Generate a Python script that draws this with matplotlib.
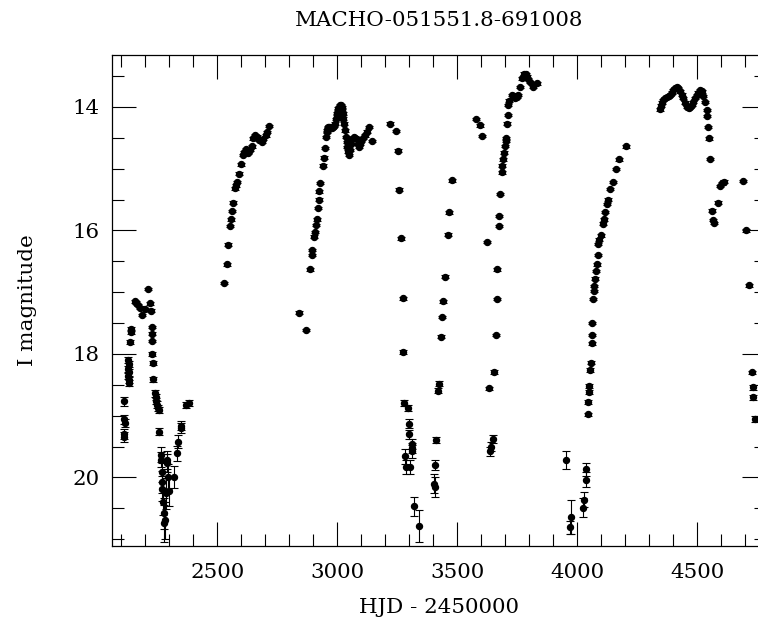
import matplotlib
matplotlib.use("Agg")
import matplotlib.pyplot as plt
from matplotlib.ticker import MultipleLocator
import numpy as np

title = "MACHO-051551.8-691008"
xlabel = "HJD - 2450000"
ylabel = "I magnitude"

# Season 1 (HJD-2450000 ~2100-2390)
hjd_s1 = [2111, 2113, 2114, 2111, 2112, 2129, 2130, 2129, 2130, 2129, 2130, 2131,
          2139, 2140, 2138, 2157, 2163, 2171, 2178, 2186, 2199, 2212, 2220, 2224,
          2227, 2228, 2228, 2229, 2230, 2232, 2240, 2243, 2246, 2250, 2254, 2258,
          2258, 2264, 2266, 2268, 2270, 2271, 2275, 2276, 2278, 2282, 2288, 2290,
          2292, 2296, 2297, 2320, 2331, 2338, 2347, 2350, 2370, 2384]
mag_s1 = [18.77, 19.06, 19.12, 19.30, 19.35, 18.10, 18.17, 18.24, 18.30, 18.36, 18.42, 18.47,
          17.60, 17.65, 17.81, 17.15, 17.17, 17.21, 17.25, 17.37, 17.27, 16.95, 17.18, 17.30,
          17.56, 17.67, 17.79, 18.00, 18.15, 18.41, 18.64, 18.70, 18.76, 18.82, 18.87, 18.91,
          19.26, 19.63, 19.71, 19.92, 20.07, 20.18, 20.39, 20.58, 20.74, 20.69, 20.26, 19.77,
          19.72, 19.99, 20.22, 19.99, 19.61, 19.42, 19.20, 19.16, 18.83, 18.80]
err_s1 = [0.07, 0.07, 0.07, 0.08, 0.08, 0.05, 0.05, 0.05, 0.05, 0.05, 0.05, 0.05,
          0.03, 0.03, 0.03, 0.02, 0.02, 0.02, 0.02, 0.02, 0.02, 0.02, 0.02, 0.02,
          0.02, 0.02, 0.02, 0.03, 0.03, 0.04, 0.05, 0.05, 0.05, 0.05, 0.05, 0.05,
          0.06, 0.12, 0.12, 0.15, 0.18, 0.20, 0.22, 0.25, 0.30, 0.30, 0.25, 0.15,
          0.15, 0.20, 0.25, 0.18, 0.12, 0.10, 0.08, 0.08, 0.05, 0.05]

# Season 2 (~2520-2720)
hjd_s2 = [2529, 2539, 2546, 2553, 2557, 2560, 2564, 2574, 2577, 2580, 2592, 2597, 2606,
          2611, 2620, 2626, 2629, 2636, 2643, 2650, 2657, 2665, 2675, 2685, 2692, 2703,
          2708, 2717]
mag_s2 = [16.85, 16.55, 16.23, 15.93, 15.82, 15.69, 15.55, 15.32, 15.27, 15.22, 15.08, 14.93, 14.78,
          14.73, 14.69, 14.72, 14.75, 14.70, 14.64, 14.51, 14.46, 14.48, 14.54, 14.57, 14.52, 14.46,
          14.41, 14.31]
err_s2 = [0.02] * len(hjd_s2)

# Season 3 (~2840-3145)
hjd_s3 = [2840, 2870, 2886, 2893, 2896, 2904, 2907, 2911, 2914, 2921, 2923, 2925, 2928,
          2942, 2944, 2949, 2953, 2955, 2957, 2960, 2963, 2967, 2972, 2978, 2983, 2987,
          2990, 2994, 2997, 3000, 3002, 3004, 3007, 3011, 3014, 3018, 3020, 3022, 3025,
          3027, 3031, 3036, 3039, 3041, 3045, 3050, 3054, 3058, 3063, 3070, 3075, 3080,
          3086, 3092, 3096, 3100, 3107, 3115, 3122, 3130, 3143]
mag_s3 = [17.33, 17.61, 16.63, 16.40, 16.32, 16.10, 16.03, 15.91, 15.82, 15.64, 15.50, 15.37, 15.23,
          14.95, 14.82, 14.67, 14.49, 14.41, 14.38, 14.34, 14.33, 14.32, 14.33, 14.34, 14.33, 14.31,
          14.27, 14.20, 14.15, 14.10, 14.06, 14.03, 14.00, 13.97, 13.97, 14.00, 14.05, 14.11, 14.19,
          14.27, 14.38, 14.49, 14.57, 14.65, 14.72, 14.78, 14.70, 14.60, 14.52, 14.49, 14.50, 14.52,
          14.60, 14.65, 14.60, 14.55, 14.50, 14.46, 14.40, 14.33, 14.55]
err_s3 = [0.02] * len(hjd_s3)

# Season 4 (~3220-3480)
hjd_s4 = [3220, 3243, 3252, 3258, 3265, 3272, 3275, 3278, 3293, 3299, 3300, 3310, 3312,
          3313, 3282, 3284, 3303, 3321, 3342, 3403, 3405, 3407, 3411, 3418, 3424, 3431,
          3435, 3439, 3449, 3459, 3465, 3477]
mag_s4 = [14.27, 14.39, 14.71, 15.34, 16.13, 17.10, 17.97, 18.79, 18.88, 19.13, 19.30, 19.46, 19.52,
          19.58, 19.66, 19.83, 19.83, 20.47, 20.78, 20.10, 20.15, 19.80, 19.39, 18.60, 18.48, 17.72,
          17.40, 17.15, 16.75, 16.07, 15.71, 15.19]
err_s4 = [0.02, 0.02, 0.02, 0.02, 0.02, 0.02, 0.03, 0.05, 0.05, 0.07, 0.07, 0.08, 0.08,
          0.10, 0.12, 0.12, 0.12, 0.16, 0.26, 0.16, 0.16, 0.08, 0.05, 0.04, 0.04, 0.02,
          0.02, 0.02, 0.02, 0.02, 0.02, 0.02]

# Season 5 (~3575-3835)
hjd_s5 = [3578, 3595, 3604, 3622, 3633, 3636, 3642, 3648, 3653, 3660, 3664, 3667, 3672,
          3674, 3678, 3685, 3688, 3690, 3693, 3700, 3702, 3704, 3708, 3710, 3712, 3717,
          3727, 3734, 3740, 3748, 3754, 3761, 3768, 3778, 3784, 3789, 3796, 3803, 3817, 3831]
mag_s5 = [14.20, 14.30, 14.47, 16.19, 18.56, 19.58, 19.50, 19.38, 18.29, 17.69, 17.11, 16.63, 15.93,
          15.77, 15.41, 15.06, 14.95, 14.85, 14.74, 14.63, 14.55, 14.50, 14.27, 14.13, 13.97, 13.90,
          13.81, 13.83, 13.86, 13.84, 13.81, 13.68, 13.54, 13.46, 13.47, 13.51, 13.55, 13.60, 13.68, 13.62]
err_s5 = [0.02, 0.02, 0.02, 0.02, 0.03, 0.08, 0.07, 0.06, 0.03, 0.02, 0.02, 0.02, 0.02,
          0.02, 0.02, 0.02, 0.02, 0.02, 0.02, 0.02, 0.02, 0.02, 0.02, 0.02, 0.02, 0.02,
          0.02, 0.02, 0.02, 0.02, 0.02, 0.02, 0.02, 0.02, 0.02, 0.02, 0.02, 0.02, 0.02, 0.02]

# Season 6 (~3950-4205)
hjd_s6 = [3952, 3974, 3970, 4022, 4029, 4035, 4036, 4043, 4046, 4048, 4050, 4053, 4055,
          4060, 4060, 4063, 4067, 4068, 4070, 4074, 4077, 4081, 4084, 4088, 4092, 4098,
          4106, 4110, 4117, 4124, 4128, 4136, 4148, 4161, 4175, 4203]
mag_s6 = [19.72, 20.64, 20.81, 20.49, 20.36, 20.04, 19.87, 18.98, 18.78, 18.62, 18.52, 18.26, 18.14,
          17.83, 17.69, 17.50, 17.11, 16.98, 16.90, 16.78, 16.66, 16.55, 16.40, 16.22, 16.15, 16.08,
          15.89, 15.82, 15.70, 15.57, 15.50, 15.33, 15.22, 15.01, 14.85, 14.64]
err_s6 = [0.15, 0.28, 0.10, 0.15, 0.12, 0.12, 0.10, 0.03, 0.03, 0.03, 0.03, 0.03, 0.02,
          0.02, 0.02, 0.02, 0.02, 0.02, 0.02, 0.02, 0.02, 0.02, 0.02, 0.02, 0.02, 0.02,
          0.02, 0.02, 0.02, 0.02, 0.02, 0.02, 0.02, 0.02, 0.02, 0.02]

# Season 7 (~4340-4745)
hjd_s7 = [4344, 4348, 4352, 4358, 4365, 4372, 4380, 4386, 4393, 4400, 4407, 4414, 4421,
          4428, 4435, 4442, 4449, 4456, 4463, 4470, 4476, 4483, 4490, 4497, 4504, 4511,
          4518, 4525, 4532, 4539, 4541, 4546, 4548, 4553, 4560, 4566, 4571, 4585, 4594,
          4601, 4611, 4690, 4704, 4717, 4727, 4730, 4733, 4741]
mag_s7 = [14.04, 13.98, 13.93, 13.89, 13.86, 13.84, 13.82, 13.81, 13.77, 13.73, 13.70, 13.68, 13.70,
          13.75, 13.80, 13.86, 13.93, 14.00, 14.02, 14.00, 13.97, 13.92, 13.86, 13.81, 13.77, 13.73,
          13.75, 13.82, 13.92, 14.05, 14.15, 14.33, 14.51, 14.84, 15.68, 15.83, 15.88, 15.55, 15.28,
          15.24, 15.21, 15.20, 16.00, 16.89, 18.30, 18.54, 18.70, 19.05]
err_s7 = [0.02] * 44 + [0.03, 0.04, 0.04, 0.05]

hjd = np.array(hjd_s1 + hjd_s2 + hjd_s3 + hjd_s4 + hjd_s5 + hjd_s6 + hjd_s7, dtype=float)
mag = np.array(mag_s1 + mag_s2 + mag_s3 + mag_s4 + mag_s5 + mag_s6 + mag_s7)
err = np.array(err_s1 + err_s2 + err_s3 + err_s4 + err_s5 + err_s6 + err_s7)

plt.rcParams['font.family'] = ['DejaVu Serif']
plt.rcParams['mathtext.fontset'] = 'dejavuserif'

fig = plt.figure(figsize=(7.58, 6.22), dpi=100)
ax = fig.add_axes([0.1474, 0.1222, 0.8632, 0.7894])

ax.errorbar(hjd, mag, yerr=err, fmt='o', color='black', ms=4.3, mec='black',
            ecolor='black', elinewidth=0.8, capsize=2.6, capthick=0.8, zorder=3)

ax.set_xlim(2060, 4786)
ax.set_ylim(21.11, 13.16)

ax.xaxis.set_major_locator(MultipleLocator(500))
ax.xaxis.set_minor_locator(MultipleLocator(100))
ax.yaxis.set_major_locator(MultipleLocator(2))
ax.yaxis.set_minor_locator(MultipleLocator(0.5))

ax.tick_params(which='both', direction='in', top=True, right=True, width=0.8, colors='black')
ax.tick_params(which='major', length=17.5)
ax.tick_params(which='minor', length=8.7)
ax.tick_params(axis='x', which='major', pad=12, labelsize=15.4)
ax.tick_params(axis='y', which='major', pad=9, labelsize=15.4)

for s in ax.spines.values():
    s.set_linewidth(0.9)

ax.set_xlabel(xlabel, fontsize=15.4, labelpad=12)
ax.set_ylabel(ylabel, fontsize=15.4, labelpad=25)
ax.set_title(title, fontsize=15.4, pad=21)

fig.savefig("out.png", dpi=100)
